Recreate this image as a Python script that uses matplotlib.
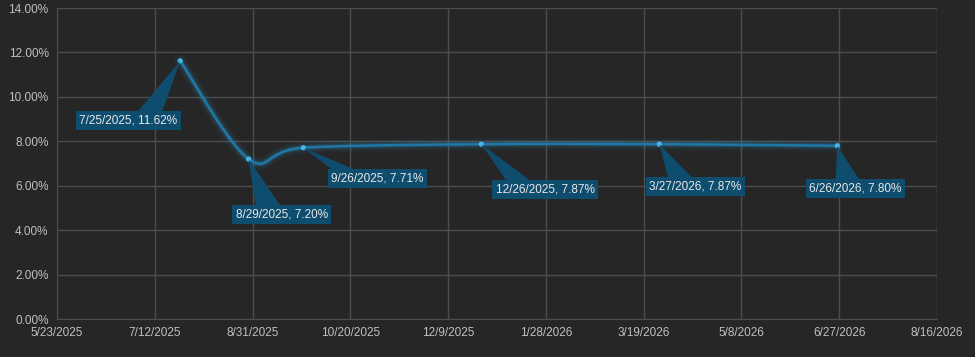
import matplotlib
matplotlib.use("Agg")
import matplotlib.pyplot as plt
import matplotlib.dates as mdates
import matplotlib.ticker as mticker
from matplotlib.patches import Polygon
import numpy as np
import pandas as pd

dates = ["2025-07-25", "2025-08-29", "2025-09-26", "2025-12-26", "2026-03-27", "2026-06-26"]
rates = [11.62, 7.20, 7.71, 7.87, 7.87, 7.80]
labels = ["7/25/2025, 11.62%", "8/29/2025, 7.20%", "9/26/2025, 7.71%",
          "12/26/2025, 7.87%", "3/27/2026, 7.87%", "6/26/2026, 7.80%"]
# label box offsets from the point, in pixels
offsets = [(-52, -60), (33, -55), (74, -31), (64, -45), (36, -42), (18, -43)]

x_start = pd.Timestamp("2025-05-23")
x_end = pd.Timestamp("2026-08-16")

BG = "#262626"
GRID = "#4d4d4d"
TXT = "#c0c0c0"
LINE = "#1f77a6"
BOX = "#0f4d6e"

def smooth(x, y, n=40):
    # Excel-like smoothed line (Catmull-Rom style bezier)
    px = np.asarray(x, float)
    py = np.asarray(y, float)
    out_x, out_y = [], []
    t = 1.0 / 6.0
    for i in range(len(px) - 1):
        p0 = (px[max(i - 1, 0)], py[max(i - 1, 0)])
        p1 = (px[i], py[i])
        p2 = (px[i + 1], py[i + 1])
        p3 = (px[min(i + 2, len(px) - 1)], py[min(i + 2, len(py) - 1)])
        c1 = (p1[0] + (p2[0] - p0[0]) * t, p1[1] + (p2[1] - p0[1]) * t)
        c2 = (p2[0] - (p3[0] - p1[0]) * t, p2[1] - (p3[1] - p1[1]) * t)
        s = np.linspace(0, 1, n)
        bx = (1 - s)**3 * p1[0] + 3 * (1 - s)**2 * s * c1[0] + 3 * (1 - s) * s**2 * c2[0] + s**3 * p2[0]
        by = (1 - s)**3 * p1[1] + 3 * (1 - s)**2 * s * c1[1] + 3 * (1 - s) * s**2 * c2[1] + s**3 * p2[1]
        out_x.extend(bx)
        out_y.extend(by)
    return np.array(out_x), np.array(out_y)

fig = plt.figure(figsize=(9.75, 3.57), dpi=100, facecolor=BG)
ax = fig.add_axes([57 / 975, 1 - 319 / 357, (937 - 57) / 975, (319 - 8) / 357])
ax.set_facecolor(BG)

d = pd.to_datetime(dates)
xnum = mdates.date2num(d)
x0 = mdates.date2num(x_start)
x1 = mdates.date2num(x_end)
ax.set_xlim(x0, x1)
ax.set_ylim(0, 14)

# smooth in pixel-like space so the curve shape matches
sx = 880 / (x1 - x0)
sy = 311 / 14.0
cx, cy = smooth((xnum - x0) * sx, np.array(rates) * sy)
cx = cx / sx + x0
cy = cy / sy

for lw, a in [(9, 0.035), (7, 0.05), (5, 0.08), (3.4, 0.14)]:
    ax.plot(cx, cy, color="#2a9fd6", lw=lw, alpha=a, solid_capstyle="round", zorder=2)
ax.plot(cx, cy, color=LINE, lw=1.8, zorder=3)
ax.scatter(xnum, rates, s=14, color="#49b8e8", zorder=4, edgecolors="none")

inv = ax.transData.inverted()
for xv, yv, lab, off in zip(xnum, rates, labels, offsets):
    ax.annotate(lab, xy=(xv, yv), xytext=off, textcoords="offset pixels",
                ha="center", va="center", fontsize=8.5, color="#e8e8e8",
                family="Liberation Sans",
                bbox=dict(boxstyle="square,pad=0.3", fc=BOX, ec="none"),
                zorder=6)
    # callout triangle from the label box to the point
    px, py = ax.transData.transform((xv, yv))
    bx = px + 0.62 * off[0]
    by = py + off[1] + 6
    tri = inv.transform([(px, py), (bx - 13, by), (bx + 13, by)])
    ax.add_patch(Polygon(tri, closed=True, fc=BOX, ec="none", zorder=5))

ax.xaxis.set_major_locator(mticker.FixedLocator(np.arange(x0, x1 + 1, 50)))
ax.xaxis.set_major_formatter(mticker.FuncFormatter(
    lambda v, p: "{d.month}/{d.day}/{d.year}".format(d=mdates.num2date(v))))
ax.yaxis.set_major_locator(mticker.MultipleLocator(2))
ax.yaxis.set_major_formatter(mticker.FuncFormatter(lambda v, p: f"{v:.2f}%"))

ax.grid(True, color=GRID, lw=1)
ax.set_axisbelow(True)
for sp in ax.spines.values():
    sp.set_visible(False)
ax.spines["left"].set_visible(True)
ax.spines["left"].set_color(GRID)
ax.spines["bottom"].set_visible(True)
ax.spines["bottom"].set_color(GRID)
ax.tick_params(length=0, colors=TXT, labelsize=8.5, pad=6)
for t in ax.get_xticklabels() + ax.get_yticklabels():
    t.set_family("Liberation Sans")

fig.savefig("out.png", dpi=100, facecolor=BG)
